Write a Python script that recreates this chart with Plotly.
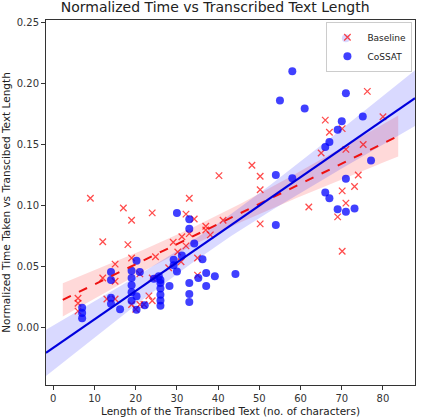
import numpy as np
import plotly.graph_objects as go

# ---- data ----
baseline_x = [9.0, 12.0, 17.0, 19.0, 18.1, 24.0, 33.0, 40.2, 32.2, 34.2,
              19.0, 15.0, 12.0, 15.0, 21.0, 24.8, 29.1, 31.2, 33.0, 32.2,
              30.2, 28.0, 24.0, 35.0, 35.0, 37.0, 37.0, 41.2, 38.1, 13.0,
              15.0, 6.0, 6.0, 6.0, 23.2, 24.0, 19.0, 21.0, 22.0, 31.0,
              20.0, 76.2, 66.0, 80.0, 67.0, 70.1, 65.0, 71.0, 75.2, 48.2,
              50.2, 74.0, 50.2, 50.2, 62.0, 70.1, 73.1, 71.0, 69.0, 70.1]
baseline_y = [0.106, 0.0704, 0.098, 0.088, 0.068, 0.094, 0.106, 0.1245, 0.093, 0.089,
              0.057, 0.052, 0.0406, 0.038, 0.044, 0.058, 0.070, 0.0745, 0.077, 0.067,
              0.062, 0.049, 0.0406, 0.057, 0.043, 0.083, 0.080, 0.088, 0.076, 0.0235,
              0.0235, 0.024, 0.020, 0.0135, 0.026, 0.022, 0.019, 0.019, 0.019, 0.054,
              0.015, 0.1935, 0.170, 0.1727, 0.160, 0.163, 0.143, 0.146, 0.150, 0.133,
              0.124, 0.125, 0.113, 0.085, 0.0988, 0.112, 0.1156, 0.102, 0.0907, 0.0625]

cossat_x = [71.0, 58.0, 55.0, 61.0, 71.0, 70.0, 75.1, 69.0, 67.0, 66.0,
            77.1, 54.0, 58.0, 71.0, 66.0, 67.0, 69.0, 71.0, 73.1, 54.0,
            44.2, 30.0, 33.0, 33.0, 34.2, 20.2, 14.0, 14.0, 19.0, 21.0,
            19.0, 19.0, 20.2, 14.0, 14.0, 16.2, 20.2, 19.0, 25.6, 26.0,
            26.0, 26.0, 26.0, 26.0, 26.0, 28.2, 29.2, 29.2, 30.0, 31.2,
            33.0, 33.0, 33.0, 35.2, 36.2, 37.1, 37.1, 39.2, 7.0, 7.0,
            7.0, 22.2, 19.0, 24.4]
cossat_y = [0.237, 0.210, 0.186, 0.1795, 0.192, 0.169, 0.173, 0.162, 0.152, 0.148,
            0.137, 0.125, 0.1224, 0.122, 0.1107, 0.106, 0.0969, 0.095, 0.0975, 0.084,
            0.0439, 0.094, 0.0888, 0.081, 0.069, 0.0547, 0.0455, 0.039, 0.0406, 0.0455,
            0.0347, 0.029, 0.0257, 0.0244, 0.0195, 0.015, 0.0146, 0.022, 0.042, 0.039,
            0.0365, 0.032, 0.027, 0.0223, 0.018, 0.034, 0.0555, 0.051, 0.046, 0.059,
            0.0365, 0.0276, 0.021, 0.0406, 0.056, 0.0447, 0.034, 0.042, 0.0162, 0.012,
            0.0076, 0.0184, 0.0465, 0.040]

x_ticks = [0, 10, 20, 30, 40, 50, 60, 70, 80]
y_ticks = [0.00, 0.05, 0.10, 0.15, 0.20, 0.25]


def fit_band(x, y, lo, hi, width_factor, n=100):
    x = np.asarray(x, float)
    y = np.asarray(y, float)
    slope, icpt = np.polyfit(x, y, 1)
    grid = np.linspace(lo, hi, n)
    pred = icpt + slope * grid
    resid = y - (icpt + slope * x)
    s = np.sqrt(np.sum(resid ** 2) / (len(x) - 2))
    sxx = np.sum((x - x.mean()) ** 2)
    se = s * np.sqrt(1.0 / len(x) + (grid - x.mean()) ** 2 / sxx)
    return grid, pred, pred - width_factor * se, pred + width_factor * se


# axis limits as matplotlib autoscaling produced them
bx = np.asarray(baseline_x)
b_lo = bx.min() - 0.05 * (bx.max() - bx.min())
b_hi = bx.max() + 0.05 * (bx.max() - bx.min())
x_lo = b_lo - 0.05 * (b_hi - b_lo)
x_hi = b_hi + 0.05 * (b_hi - b_lo)

bg, bp, bl, bu = fit_band(baseline_x, baseline_y, b_lo, b_hi, 2.0)
cg, cp, cl, cu = fit_band(cossat_x, cossat_y, x_lo, x_hi, 2.3)

fig = go.Figure()

# confidence bands
for g, l, u, col in [(bg, bl, bu, "rgba(255,0,0,0.15)"), (cg, cl, cu, "rgba(0,0,255,0.15)")]:
    fig.add_trace(go.Scatter(x=g, y=l, mode="lines", line=dict(width=0), showlegend=False,
                             hoverinfo="skip"))
    fig.add_trace(go.Scatter(x=g, y=u, mode="lines", line=dict(width=0), fill="tonexty",
                             fillcolor=col, showlegend=False, hoverinfo="skip"))

fig.add_trace(go.Scatter(x=baseline_x, y=baseline_y, mode="markers", name="Baseline",
                         marker=dict(symbol="x-thin", size=6.5, color="rgba(255,0,0,0.7)",
                                     line=dict(width=1.3, color="rgba(255,0,0,0.7)"))))
fig.add_trace(go.Scatter(x=cossat_x, y=cossat_y, mode="markers", name="CoSSAT",
                         marker=dict(symbol="circle", size=8, color="rgba(0,0,255,0.75)",
                                     line=dict(width=0))))

fig.add_trace(go.Scatter(x=bg, y=bp, mode="lines", showlegend=False,
                         line=dict(color="#ee1111", width=2, dash="dash")))
fig.add_trace(go.Scatter(x=cg, y=cp, mode="lines", showlegend=False,
                         line=dict(color="#0000dd", width=2)))

axis_common = dict(showgrid=False, zeroline=False, showline=True, mirror=True,
                   linecolor="#333333", linewidth=1, ticks="outside", ticklen=4,
                   tickcolor="#333333", tickfont=dict(size=10, color="#333333"))

fig.update_layout(
    width=421, height=420,
    margin=dict(l=43, r=5, t=20, b=32),
    paper_bgcolor="white", plot_bgcolor="white",
    font=dict(family="DejaVu Sans", color="#222222"),
    title=dict(text="Normalized Time vs Transcribed Text Length", x=0.511, xanchor="center",
               y=0.995, yanchor="top", font=dict(size=14, color="#222222")),
    xaxis=dict(range=[x_lo, x_hi], tickvals=x_ticks, ticktext=[str(v) for v in x_ticks],
               title=dict(text="Length of the Transcribed Text (no. of characters)",
                          font=dict(size=10.5), standoff=4), **axis_common),
    yaxis=dict(range=[-0.047, 0.252], tickvals=y_ticks,
               ticktext=["%.2f" % v for v in y_ticks],
               title=dict(text="Normalized Time Taken vs Transcibed Text Length",
                          font=dict(size=10.5), standoff=4), **axis_common),
    legend=dict(x=0.993, y=0.995, xanchor="right", yanchor="top", traceorder="normal",
                bgcolor="rgba(255,255,255,0.8)", bordercolor="#cccccc", borderwidth=1,
                font=dict(size=9), tracegroupgap=0, itemwidth=30),
)

fig.write_html("out.html")
